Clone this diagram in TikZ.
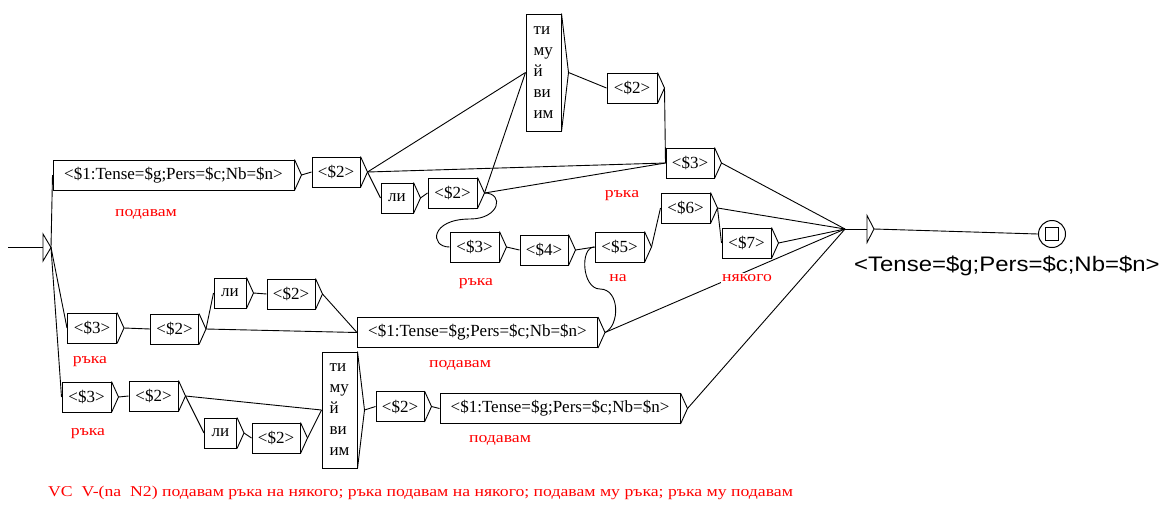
\documentclass[tikz,border=0pt]{standalone}
\usepackage{fontspec}
\usepackage{graphicx}
\setmainfont{Liberation Serif}
\newfontfamily\boxfont{Liberation Serif}
\newfontfamily\redfont[FakeStretch=1.18]{Liberation Serif}
\newfontfamily\outfont{Liberation Sans}
\usetikzlibrary{calc}
\tikzset{
  line/.style={draw=black, line width=0.9pt},
  ubox/.style={draw=black, line width=1pt, inner sep=0pt, align=left, font=\boxfont\fontsize{17}{21}\selectfont},
  lab/.style={text=red, inner sep=1pt, font=\redfont\fontsize{15}{18}\selectfont},
}
\newcommand\UBox[6]{%
  \node[ubox, minimum width=#4pt, minimum height=#5pt] (#1) at (#2,#3) {#6};
  \coordinate (#1t) at ($(#1.east)+(7pt,0pt)$);
  \draw[line] (#1.north east) -- (#1t) -- (#1.south east);
}
\begin{document}
\begin{tikzpicture}[x=1pt,y=-1pt]
\fill[white] (0,0) rectangle (1161,504);
\useasboundingbox (0,0) rectangle (1161,504);
% initial state
\coordinate (start) at (8,247.5);
\coordinate (initL) at (43,247.5);
\coordinate (init) at (51,247.5);
\draw[line] (start) -- (initL);
\draw[line] (43,234) -- (init) -- (43,261) -- cycle;
% boxes
\UBox{A}{173.5}{175}{241}{30}{<\$1:Tense=\$g;Pers=\$c;Nb=\$n>}
\UBox{B}{336}{172}{48}{30}{<\$2>}
\UBox{TA}{543.5}{72.5}{35}{117}{ти\\му\\й\\ви\\им}
\UBox{C}{632}{88}{50}{30}{<\$2>}
\UBox{D}{690}{163}{48}{30}{<\$3>}
\UBox{LA}{397}{198}{32}{30}{ли}
\UBox{E}{452.5}{193}{49}{30}{<\$2>}
\UBox{F}{474.5}{247}{49}{30}{<\$3>}
\UBox{G}{544}{250}{48}{30}{<\$4>}
\UBox{H}{619.5}{247}{49}{30}{<\$5>}
\UBox{I}{685.5}{208}{49}{30}{<\$6>}
\UBox{J}{746.5}{243}{49}{30}{<\$7>}
\UBox{K}{92}{328}{49}{30}{<\$3>}
\UBox{L}{174.5}{329}{48}{30}{<\$2>}
\UBox{LB}{230}{293}{32}{30}{ли}
\UBox{M}{291}{294}{48}{30}{<\$2>}
\UBox{N}{477.5}{332.5}{240}{30}{<\$1:Tense=\$g;Pers=\$c;Nb=\$n>}
\UBox{O}{86.5}{397}{49}{30}{<\$3>}
\UBox{P}{153.5}{396}{49}{30}{<\$2>}
\UBox{LC}{220.5}{433}{32}{30}{ли}
\UBox{Q}{276}{438}{48}{30}{<\$2>}
\UBox{TB}{339.5}{410}{35}{116}{ти\\му\\й\\ви\\им}
\UBox{R}{400}{406.5}{48}{30}{<\$2>}
\UBox{S}{560}{408.5}{240}{30}{<\$1:Tense=\$g;Pers=\$c;Nb=\$n>}
% edges top
\draw[line] (init) -- (A.west);
\draw[line] (init) -- (K.west);
\draw[line] (init) -- (O.west);
\draw[line] (At) -- (B.west);
\draw[line] (Bt) -- (TA.west);
\draw[line] (Bt) -- (D.west);
\draw[line] (Bt) -- (LA.west);
\draw[line] (TAt) -- (C.west);
\draw[line] (Ct) -- (D.west);
\draw[line] (LAt) -- (E.west);
\draw[line] (Et) -- (TA.west);
\draw[line] (Et) -- (D.west);
\draw[line] (Et) .. controls +(20,0) and +(30,0) .. (470,219) .. controls +(-40,0) and +(-20,0) .. (F.west);
\draw[line] (Ft) -- (G.west);
\draw[line] (Gt) -- (H.west);
\draw[line] (Ht) -- (I.west);
\draw[line] (It) -- (J.west);
\coordinate (hub) at (845,229);
\draw[line] (Dt) -- (hub);
\draw[line] (It) -- (hub);
\draw[line] (Jt) -- (hub);
\draw[line] (Nt) -- (hub);
\draw[line] (St) -- (hub);
% middle row
\draw[line] (Kt) -- (L.west);
\draw[line] (Lt) -- (LB.west);
\draw[line] (Lt) -- (N.west);
\draw[line] (LBt) -- (M.west);
\draw[line] (Mt) -- (N.west);
\draw[line] (Nt) .. controls +(15,-7) and +(20,0) .. (600,289) .. controls +(-18,0) and +(-15,0) .. (H.west);
% bottom row
\draw[line] (Ot) -- (P.west);
\draw[line] (Pt) -- (TB.west);
\draw[line] (Pt) -- (LC.west);
\draw[line] (LCt) -- (Q.west);
\draw[line] (Qt) -- (TB.west);
\draw[line] (TBt) -- (R.west);
\draw[line] (Rt) -- (S.west);
% final state
\coordinate (ftri) at (867,229);
\coordinate (ftip) at (874,229);
\draw[line] (hub) -- (ftri);
\draw[line] (867,215.5) -- (ftip) -- (867,242.5) -- cycle;
\node[circle, draw, line width=1pt, minimum size=27pt, inner sep=0pt] (fin) at (1052,234) {};
\node[draw, line width=1pt, minimum size=13pt, inner sep=0pt] (finsq) at (fin.center) {};
\draw[line] (ftip) -- (fin.west);
% labels
\node[lab] (l1) at (146,214) {подавам};
\node[lab] (l2) at (622,196) {ръка};
\node[lab] (l3) at (476,284) {ръка};
\node[lab] (l4) at (618,278) {на};
\node[lab, fill=white] (l5) at (747,278) {някого};
\node[lab] (l6) at (90,362) {ръка};
\node[lab] (l7) at (460,365) {подавам};
\node[lab] (l8) at (88,434) {ръка};
\node[lab] (l9) at (500,440) {подавам};
\node[lab, anchor=west] (cap) at (47,493) {VC\ \ V-(na\ \ N2) подавам ръка на някого; ръка подавам на някого; подавам му ръка; ръка му подавам};
\node[anchor=west, inner sep=0pt, font=\outfont\fontsize{21}{24}\selectfont] (outl) at (854,266) {\scalebox{1.14}[1]{<Tense=\$g;Pers=\$c;Nb=\$n>}};
\end{tikzpicture}
\end{document}
